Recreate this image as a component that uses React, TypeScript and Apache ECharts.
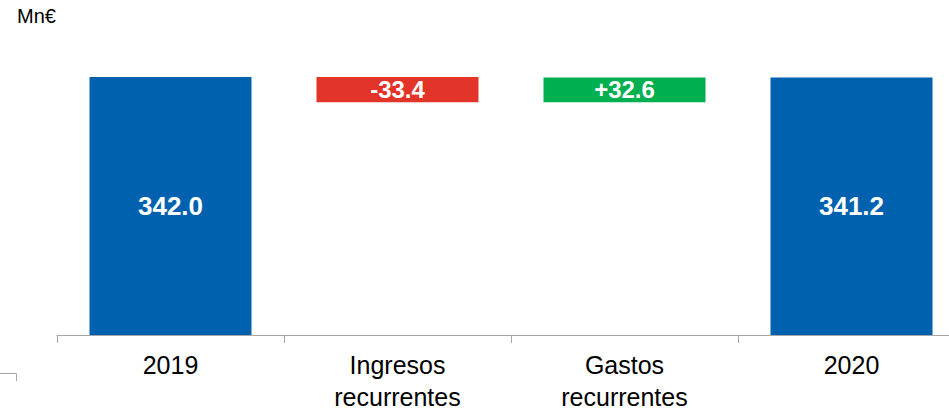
import React, { useEffect, useRef } from "react";
import * as echarts from "echarts";

const categories = ["2019", "Ingresos\nrecurrentes", "Gastos\nrecurrentes", "2020"];
const baseValues = [0, 308.6, 308.6, 0];
const barValues = [342.0, 33.4, 32.6, 341.2];
const barLabels = ["342.0", "-33.4", "+32.6", "341.2"];
const barColors = ["#0061AE", "#E3342A", "#00AF50", "#0061AE"];
const unitLabel = "Mn€";

export default function App() {
  const ref = useRef<HTMLDivElement>(null);
  useEffect(() => {
    if (!ref.current) return;
    const chart = echarts.init(ref.current, undefined, { renderer: "svg" });
    const font = "'Liberation Sans', Arial, sans-serif";
    chart.setOption({
      animation: false,
      grid: { left: 57, right: 0, top: 0, bottom: 84, containLabel: false, outerBoundsMode: "none" },
      xAxis: {
        type: "category",
        data: categories,
        axisLine: { show: true, lineStyle: { color: "#A6A6A6", width: 1 } },
        axisTick: { show: true, length: 8, lineStyle: { color: "#A6A6A6" } },
        axisLabel: {
          color: "#000",
          fontFamily: font,
          fontSize: 25,
          lineHeight: 32,
          margin: 14,
          interval: 0,
        },
      },
      yAxis: {
        type: "value",
        min: 0,
        max: 444,
        show: false,
        splitLine: { show: false },
      },
      series: [
        {
          type: "bar",
          stack: "w",
          data: baseValues,
          barWidth: 162,
          itemStyle: { color: "transparent" },
          silent: true,
        },
        {
          type: "bar",
          stack: "w",
          barWidth: 162,
          data: barValues.map((v, i) => ({
            value: v,
            itemStyle: { color: barColors[i] },
            label: {
              show: true,
              position: "inside",
              formatter: barLabels[i],
              color: "#fff",
              fontWeight: "bold",
              fontFamily: font,
              fontSize: i === 0 || i === 3 ? 26 : 24,
            },
          })),
        },
      ],
      graphic: [
        {
          type: "text",
          left: 17,
          top: 6,
          style: { text: unitLabel, fontSize: 20, fontFamily: font, fill: "#000" },
        },
        {
          type: "polyline",
          shape: { points: [[0, 373.5], [16.5, 373.5], [16.5, 381]] },
          style: { stroke: "#A6A6A6", lineWidth: 1, fill: "none" },
        },
      ],
    });
    return () => chart.dispose();
  }, []);
  return (
    <div
      style={{ position: "fixed", left: 0, top: 0, width: 949, height: 419, overflow: "hidden", background: "#fff" }}
    >
      <div ref={ref} style={{ width: 965, height: 419 }} />
    </div>
  );
}
